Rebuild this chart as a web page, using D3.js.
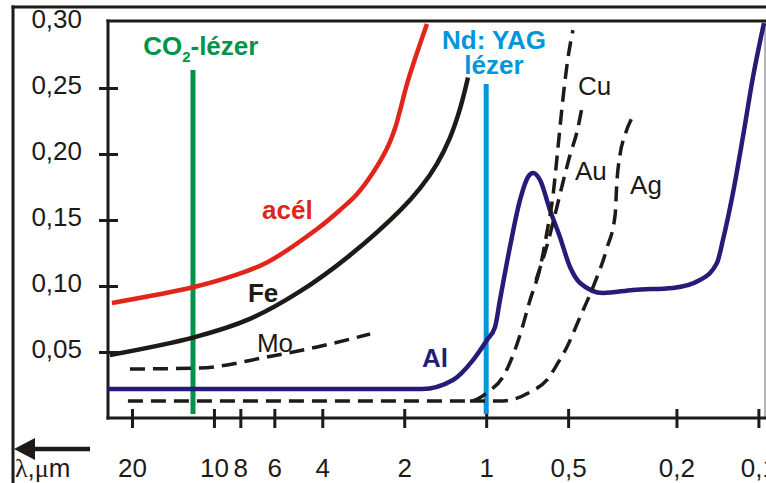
<!DOCTYPE html>
<html><head><meta charset="utf-8">
<script src="https://cdn.jsdelivr.net/npm/d3@7"></script>
<style>body{margin:0;background:#fff}svg{display:block}</style>
</head><body>
<svg id="chart" width="766" height="483"></svg>
<script>
// ---- axis ticks ----
const wavelengthTicks = [20, 10, 8, 6, 4, 2, 1, 0.5, 0.2, 0.1];
const wavelengthTickLabels = ["20", "10", "8", "6", "4", "2", "1", "0,5", "0,2", "0,1"];
const absorptionTicks = [0.05, 0.10, 0.15, 0.20, 0.25, 0.30];
const absorptionTickLabels = ["0,05", "0,10", "0,15", "0,20", "0,25", "0,30"];

// ---- series: [wavelength (µm), absorption] ----
const acel = [[23.7,0.0871],[11.85,0.0992],[8.52,0.1076],[6.39,0.1178],[4.18,0.1432],[3.44,0.1576],[2.98,0.1697],[2.61,0.1856],[2.31,0.2045],[2.16,0.2197],[2.07,0.2333],[1.954,0.2530],[1.796,0.2765],[1.65,0.2985]];
const fe = [[24.1,0.0477],[11.85,0.0611],[7.38,0.0751],[4.83,0.0959],[3.17,0.1232],[2.07,0.1573],[1.751,0.1739],[1.516,0.1926],[1.359,0.2123],[1.248,0.2342],[1.166,0.2579]];
const mo = [[20.35,0.0371],[11.26,0.0379],[6.39,0.0462],[4.18,0.0538],[2.67,0.0636]];
const al = [[24.5,0.022],[1.722,0.022],[1.324,0.0288],[1.118,0.0439],[0.993,0.0591],[0.928,0.0689],[0.890,0.0894],[0.818,0.1295],[0.751,0.1652],[0.702,0.1826],[0.673,0.1856],[0.634,0.1803],[0.583,0.1576],[0.536,0.1371],[0.492,0.1144],[0.452,0.1023],[0.372,0.0947],[0.289,0.097],[0.206,0.0985],[0.164,0.1045],[0.142,0.1174],[0.135,0.1348],[0.124,0.1705],[0.114,0.2129],[0.1047,0.2583],[0.0954,0.2992]];
const cu = [[20.7,0.0129],[1.147,0.0129],[0.985,0.0197],[0.868,0.0311],[0.751,0.0629],[0.690,0.0894],[0.634,0.1136],[0.598,0.1409],[0.568,0.1689],[0.545,0.2045],[0.522,0.2424],[0.5006,0.2727],[0.480,0.2939]];
const au = [[0.656,0.1045],[0.593,0.1333],[0.559,0.1538],[0.522,0.1788],[0.492,0.1992],[0.464,0.2167],[0.445,0.2348]];
const ag = [[1.147,0.0129],[0.868,0.0129],[0.690,0.0197],[0.598,0.0288],[0.545,0.0417],[0.505,0.0538],[0.452,0.0765],[0.405,0.0992],[0.360,0.1288],[0.336,0.1538],[0.331,0.1788],[0.3225,0.1992],[0.309,0.2144],[0.289,0.2288]];

// ---- laser lines ----
const laserWavelengths = [11.94, 1.0];
const laserTopValues = [0.2636, 0.253];
const laserBottomValue = 0.003;

// ---- series labels ----
const labelTexts = ["acél", "Fe", "Mo", "Al", "Cu", "Au", "Ag"];
const labelWavelengths = [6.66, 7.50, 6.95, 1.722, 0.460, 0.472, 0.296];
const labelValues = [0.1508, 0.0879, 0.05, 0.0386, 0.2447, 0.1803, 0.1697];

// ---- styling ----
const FONT = "'Liberation Sans', Arial, Helvetica, sans-serif";
const INK = "#1e1a17";
const RED = "#e1251b", GREEN = "#00934a", BLUE = "#0096dc", NAVY = "#251c7a";
const labelStyle = {
  "acél": {fill: RED, weight: "bold"},
  "Fe": {fill: INK, weight: "bold"},
  "Mo": {fill: INK, weight: "normal"},
  "Al": {fill: NAVY, weight: "bold"},
  "Cu": {fill: INK, weight: "normal"},
  "Au": {fill: INK, weight: "normal"},
  "Ag": {fill: INK, weight: "normal"}
};

const svg = d3.select("#chart");
const x = d3.scaleLog().domain([20, 0.1]).range([132, 758.4]);
const y = d3.scaleLinear().domain([0, 0.30]).range([418, 22]);

const plotLeft = 108, plotTop = y(0.30) - 1, plotRight = 765, plotBottom = y(0);

// outer frame
svg.append("line").attr("x1", 11.5).attr("x2", 766).attr("y1", 7).attr("y2", 7).attr("stroke", INK).attr("stroke-width", 3);
svg.append("line").attr("x1", 13).attr("x2", 13).attr("y1", 5.5).attr("y2", 483).attr("stroke", INK).attr("stroke-width", 3);

// inner frame
svg.append("line").attr("x1", plotRight).attr("x2", plotRight).attr("y1", plotTop).attr("y2", plotBottom).attr("stroke", "#8c8c8c").attr("stroke-width", 1.3);
svg.append("line").attr("x1", plotLeft - 1.5).attr("x2", 766).attr("y1", plotTop).attr("y2", plotTop).attr("stroke", INK).attr("stroke-width", 3);
svg.append("line").attr("x1", plotLeft).attr("x2", plotLeft).attr("y1", plotTop - 1.5).attr("y2", plotBottom + 1.5).attr("stroke", INK).attr("stroke-width", 3);
svg.append("line").attr("x1", plotLeft - 1.5).attr("x2", 766).attr("y1", plotBottom).attr("y2", plotBottom).attr("stroke", INK).attr("stroke-width", 3);

// x axis
const gx = svg.append("g").attr("transform", `translate(0,${plotBottom})`)
  .call(d3.axisBottom(x).tickValues(wavelengthTicks).tickFormat((d, i) => wavelengthTickLabels[i]).tickSizeOuter(0));
gx.select(".domain").remove();
gx.selectAll(".tick line").attr("y1", -9).attr("y2", 10).attr("stroke", INK).attr("stroke-width", 3);
gx.selectAll(".tick text").attr("y", 59).attr("dy", 0).attr("font-size", 26).attr("font-family", FONT).attr("fill", INK);

// y axis
const gy = svg.append("g").attr("transform", `translate(${plotLeft},0)`)
  .call(d3.axisLeft(y).tickValues(absorptionTicks).tickFormat((d, i) => absorptionTickLabels[i]).tickSizeOuter(0));
gy.select(".domain").remove();
gy.selectAll(".tick line").attr("x1", -9).attr("x2", 10).attr("stroke", INK).attr("stroke-width", 3)
  .style("display", d => d >= 0.3 ? "none" : null);
gy.selectAll(".tick text").attr("x", -26).attr("y", 5.5).attr("dy", 0).attr("font-size", 26).attr("font-family", FONT).attr("fill", INK);

// curves
const smoothLine = d3.line().x(d => x(d[0])).y(d => y(d[1])).curve(d3.curveCatmullRom.alpha(0.5));
const line = d3.line().x(d => x(d[0])).y(d => y(d[1])).curve(d3.curveMonotoneX);

// laser lines
const laserColors = [GREEN, BLUE];
svg.append("g").selectAll("line").data(laserWavelengths).join("line")
  .attr("x1", d => x(d)).attr("x2", d => x(d))
  .attr("y1", (d, i) => y(laserTopValues[i])).attr("y2", y(laserBottomValue))
  .attr("stroke", (d, i) => laserColors[i]).attr("stroke-width", 5);

const solid = [{d: acel, c: RED, g: smoothLine}, {d: fe, c: INK, g: smoothLine}, {d: al, c: NAVY, g: line}];
svg.append("g").selectAll("path").data(solid).join("path")
  .attr("d", s => s.g(s.d)).attr("fill", "none").attr("stroke", s => s.c)
  .attr("stroke-width", 4.5).attr("stroke-linejoin", "round");

const dashed = [mo, cu, au, ag];
svg.append("g").selectAll("path").data(dashed).join("path")
  .attr("d", s => line(s)).attr("fill", "none").attr("stroke", INK)
  .attr("stroke-width", 3.5).attr("stroke-dasharray", "15,8");

// series labels
svg.append("g").selectAll("text").data(labelTexts).join("text")
  .attr("x", (d, i) => x(labelWavelengths[i])).attr("y", (d, i) => y(labelValues[i]))
  .attr("font-family", FONT).attr("font-size", 26)
  .attr("font-weight", d => labelStyle[d].weight).attr("fill", d => labelStyle[d].fill)
  .text(d => d);

// laser labels
const co2 = svg.append("text").attr("x", x(18.2)).attr("y", y(0.275))
  .attr("font-family", FONT).attr("font-size", 26).attr("font-weight", "bold").attr("fill", GREEN);
co2.append("tspan").text("CO");
co2.append("tspan").attr("font-size", 15).attr("dy", 7).text("2");
co2.append("tspan").attr("dy", -7).text("-lézer");

svg.append("text").attr("x", x(0.936)).attr("y", y(0.2795)).attr("text-anchor", "middle")
  .attr("font-family", FONT).attr("font-size", 26).attr("font-weight", "bold").attr("fill", BLUE).text("Nd: YAG");
svg.append("text").attr("x", x(0.936)).attr("y", y(0.2605)).attr("text-anchor", "middle")
  .attr("font-family", FONT).attr("font-size", 26).attr("font-weight", "bold").attr("fill", BLUE).text("lézer");

// wavelength direction arrow + unit
svg.append("line").attr("x1", 32).attr("x2", 90).attr("y1", 449).attr("y2", 449).attr("stroke", INK).attr("stroke-width", 4.5);
svg.append("path").attr("d", "M14,449L35,438L35,460Z").attr("fill", INK);
const unit = svg.append("text").attr("x", 15).attr("y", 477).attr("font-family", FONT).attr("font-size", 26).attr("fill", INK);
unit.append("tspan").attr("font-family", "'Liberation Serif', 'Times New Roman', serif").text("λ");
unit.append("tspan").text(",");
unit.append("tspan").attr("font-family", "'Liberation Serif', 'Times New Roman', serif").text("μ");
unit.append("tspan").text("m");
</script>
</body></html>
